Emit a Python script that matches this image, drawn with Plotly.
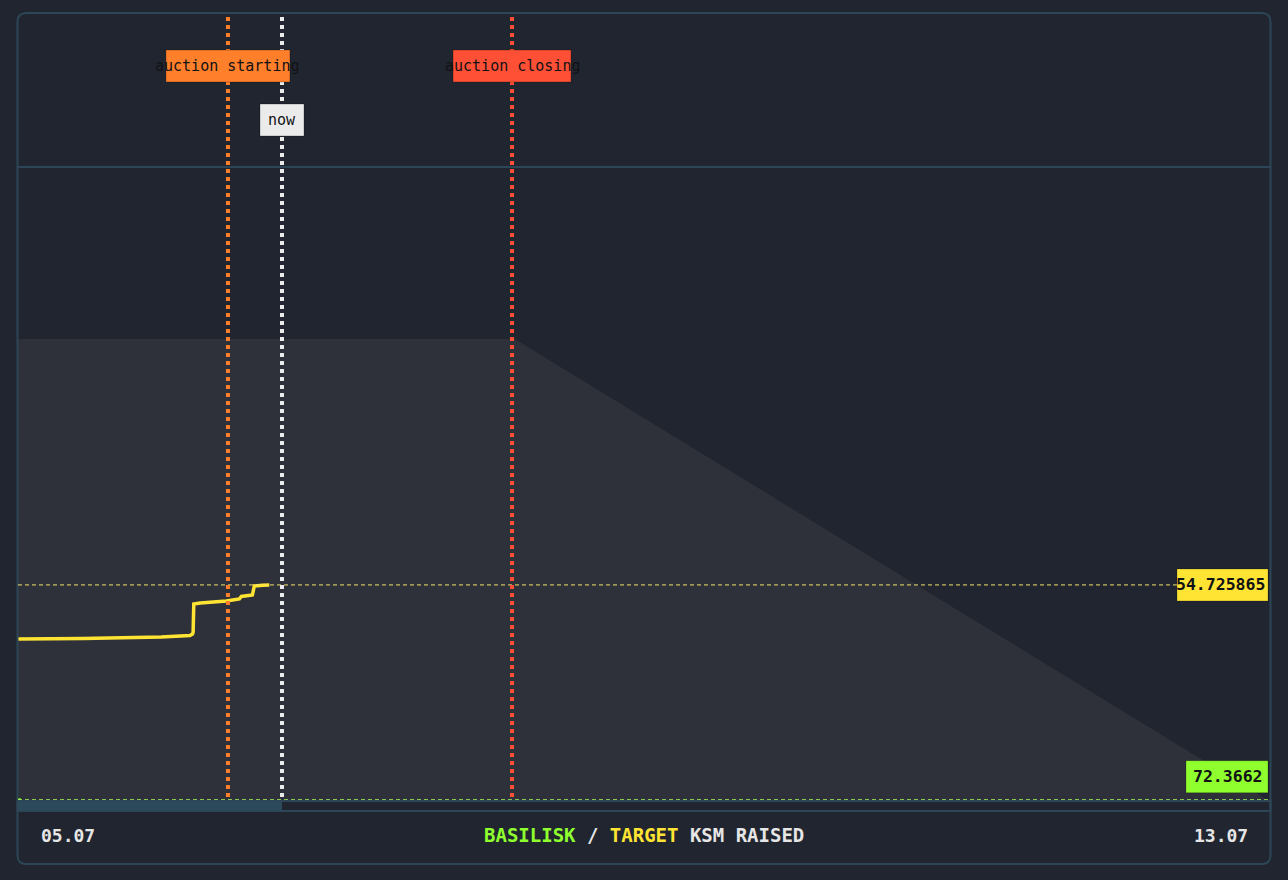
import plotly.graph_objects as go

W, H = 1288, 880

# ---------------- data ----------------
x_range = ["2021-07-05 00:00", "2021-07-13 00:00"]
y_range = [0, 200000]

target_times = [
    "2021-07-05 00:00", "2021-07-05 10:00", "2021-07-05 22:00", "2021-07-06 02:24",
    "2021-07-06 02:48", "2021-07-06 02:54", "2021-07-06 03:00", "2021-07-06 04:00",
    "2021-07-06 06:00", "2021-07-06 08:00", "2021-07-06 10:00", "2021-07-06 10:18",
    "2021-07-06 12:00", "2021-07-06 12:18", "2021-07-06 13:36", "2021-07-06 14:36",
]
target_values = [
    40966, 41094, 41475, 41857,
    42239, 42748, 49872, 50127,
    50381, 50636, 51145, 51781,
    52162, 54452, 54650, 54725.865,
]

basilisk_times = ["2021-07-05 00:00", "2021-07-05 00:25"]
basilisk_values = [72.3662, 72.3662]

projection_times = ["2021-07-05 00:00", "2021-07-08 04:18", "2021-07-13 00:00"]
projection_values = [117300, 117300, 0]

event_names = ["auction starting", "now", "auction closing"]
event_times = ["2021-07-06 08:15", "2021-07-06 16:33", "2021-07-08 03:53"]

value_labels = ["54.725865", "72.3662"]
footer_left = "05.07"
footer_right = "13.07"

# ---------------- style ----------------
BG = "#21252f"
BORDER = "#2d4657"
GRAY = "#2e3139"
YELLOW = "#ffe433"
GREEN = "#8fff2e"
EVENT_COLORS = ["#ff7f2a", "#ebebeb", "#ff5035"]
DARK_TXT = "#111216"
FONT = "DejaVu Sans Mono"


def px(x):
    return x / W


def py(y):
    return 1 - y / H


fig = go.Figure()

fig.add_trace(go.Scatter(
    x=projection_times, y=projection_values, mode="lines",
    line=dict(width=0, color=GRAY), fill="tozeroy", fillcolor=GRAY,
    hoverinfo="skip", showlegend=False))

fig.add_trace(go.Scatter(
    x=target_times, y=target_values, mode="lines",
    line=dict(width=3.5, color=YELLOW), showlegend=False))

fig.add_trace(go.Scatter(
    x=basilisk_times, y=basilisk_values, mode="lines",
    line=dict(width=3, color=GREEN), showlegend=False))

shapes = []
annotations = []

# outer rounded border
l, r, t, b, rad = 17.5, 1270.5, 13, 864, 9
path = (f"M {px(l+rad)},{py(t)} L {px(r-rad)},{py(t)} Q {px(r)},{py(t)} {px(r)},{py(t+rad)} "
        f"L {px(r)},{py(b-rad)} Q {px(r)},{py(b)} {px(r-rad)},{py(b)} "
        f"L {px(l+rad)},{py(b)} Q {px(l)},{py(b)} {px(l)},{py(b-rad)} "
        f"L {px(l)},{py(t+rad)} Q {px(l)},{py(t)} {px(l+rad)},{py(t)} Z")
shapes.append(dict(type="path", xref="paper", yref="paper", path=path,
                   line=dict(color=BORDER, width=2), layer="above"))

# separator under label zone
shapes.append(dict(type="line", xref="paper", yref="paper",
                   x0=px(17.5), x1=px(1270.5), y0=py(167), y1=py(167),
                   line=dict(color=BORDER, width=2)))

# progress bar (start -> now)
shapes.append(dict(type="rect", xref="x", yref="paper",
                   x0=x_range[0], x1=event_times[1], y0=py(812), y1=py(800),
                   fillcolor="#2d4a5c", line=dict(width=0)))
shapes.append(dict(type="rect", xref="paper", yref="paper",
                   x0=px(17.5), x1=px(1270.5), y0=py(811), y1=py(801),
                   line=dict(color=BORDER, width=2)))

# dashed value lines
shapes.append(dict(type="line", xref="x domain", yref="y", x0=0, x1=1,
                   y0=target_values[-1], y1=target_values[-1],
                   line=dict(color="#f3e46a", width=1, dash="4px,3px")))
shapes.append(dict(type="line", xref="x domain", yref="y", x0=0, x1=1,
                   y0=basilisk_values[-1], y1=basilisk_values[-1],
                   line=dict(color="#a6f25a", width=1, dash="4px,3px")))

# event lines
for t_, c in zip(event_times, EVENT_COLORS):
    shapes.append(dict(type="line", xref="x", yref="paper", x0=t_, x1=t_,
                       y0=py(797), y1=py(14),
                       line=dict(color=c, width=4, dash="4px,4px")))

# event label boxes
box_half = [62, 22, 59]
box_y = [(50, 82), (104, 136), (50, 82)]
for name, t_, c, hw, (yt, yb) in zip(event_names, event_times, EVENT_COLORS, box_half, box_y):
    shapes.append(dict(type="rect", xref="x", xsizemode="pixel", xanchor=t_,
                       x0=-hw, x1=hw, yref="paper", y0=py(yb), y1=py(yt),
                       fillcolor=c, line=dict(color="rgba(0,0,0,0.25)", width=1)))
    annotations.append(dict(x=t_, xref="x", y=py((yt + yb) / 2), yref="paper",
                            text=name, showarrow=False, xanchor="center", yanchor="middle",
                            font=dict(family=FONT, size=15, color=DARK_TXT)))

# value labels on right
shapes.append(dict(type="rect", xref="paper", yref="y", ysizemode="pixel",
                   yanchor=target_values[-1], y0=-16, y1=16,
                   x0=px(1177), x1=px(1268), fillcolor=YELLOW,
                   line=dict(color="rgba(0,0,0,0.2)", width=1)))
annotations.append(dict(x=px(1267), xref="paper", y=target_values[-1], yref="y",
                        text=f"<b>{value_labels[0]}</b>", showarrow=False, xanchor="right",
                        yanchor="middle", font=dict(family=FONT, size=16.5, color=DARK_TXT)))
shapes.append(dict(type="rect", xref="paper", yref="y", ysizemode="pixel",
                   yanchor=basilisk_values[-1], y0=7, y1=39,
                   x0=px(1186), x1=px(1268), fillcolor=GREEN,
                   line=dict(color="rgba(0,0,0,0.2)", width=1)))
annotations.append(dict(x=px(1265), xref="paper", y=py(776), yref="paper",
                        text=f"<b>{value_labels[1]}</b>", showarrow=False, xanchor="right",
                        yanchor="middle", font=dict(family=FONT, size=16.5, color=DARK_TXT)))

# footer
annotations.append(dict(x=px(68), y=py(835), xref="paper", yref="paper", text=f"<b>{footer_left}</b>",
                        showarrow=False, xanchor="center", yanchor="middle",
                        font=dict(family=FONT, size=18, color="#e6e6e6")))
annotations.append(dict(x=px(1221), y=py(835), xref="paper", yref="paper", text=f"<b>{footer_right}</b>",
                        showarrow=False, xanchor="center", yanchor="middle",
                        font=dict(family=FONT, size=18, color="#e6e6e6")))
annotations.append(dict(
    x=px(644), y=py(835), xref="paper", yref="paper",
    text=(f"<b><span style='color:{GREEN}'>BASILISK</span> / "
          f"<span style='color:{YELLOW}'>TARGET</span> KSM RAISED</b>"),
    showarrow=False, xanchor="center", yanchor="middle",
    font=dict(family=FONT, size=19, color="#e6e6e6")))

fig.update_layout(
    width=W, height=H,
    margin=dict(l=0, r=0, t=0, b=0),
    paper_bgcolor=BG, plot_bgcolor=BG,
    xaxis=dict(domain=[px(18), px(1268)], range=x_range, type="date",
               visible=False, showgrid=False, zeroline=False),
    yaxis=dict(domain=[py(800), py(14)], range=y_range, visible=False,
               showgrid=False, zeroline=False),
    shapes=shapes, annotations=annotations, showlegend=False,
)

fig.write_html("out.html")
